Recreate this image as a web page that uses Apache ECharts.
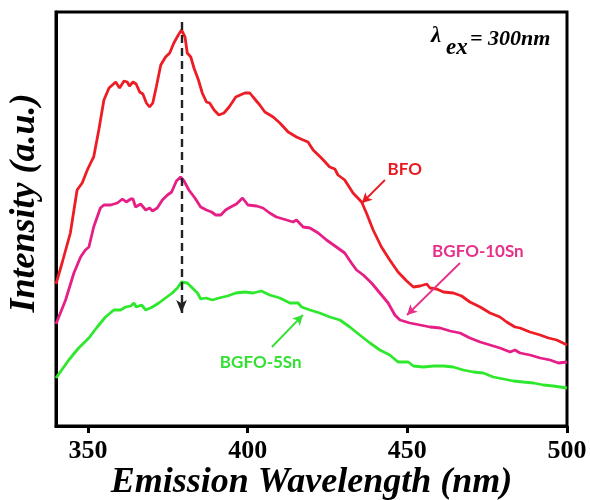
<!DOCTYPE html>
<html>
<head>
<meta charset="utf-8">
<script src="https://cdn.jsdelivr.net/npm/echarts@6/dist/echarts.min.js"></script>
<style>
html,body{margin:0;padding:0;background:#fff;}
#chart{width:590px;height:500px;}
</style>
</head>
<body>
<div id="chart"></div>
<script>
// ---- data (wavelength in nm, intensity in arbitrary units) ----
const xTicks = [350, 400, 450, 500];

const bfoWavelength = [340.0,341.9,344.5,346.6,348.2,349.8,351.3,351.8,353.4,355.0,356.6,358.7,359.9,361.3,362.3,363.0,364.1,365.1,366.2,367.2,368.3,369.3,370.3,371.4,372.8,374.3,375.6,376.9,378.3,379.3,380.4,381.1,382.2,383.2,384.6,385.8,387.1,388.1,389.5,391.0,392.6,394.2,396.3,399.1,400.7,401.7,403.8,405.4,408.0,410.1,412.7,415.3,417.4,418.9,420.5,423.1,425.7,427.3,428.3,430.4,433.0,435.7,437.2,439.3,441.9,444.5,447.1,449.8,451.9,454.0,456.1,457.1,459.2,461.3,464.4,467.0,469.6,472.8,475.9,479.0,481.1,483.7,485.3,488.4,491.6,494.2,496.8,500.0];
const bfoIntensity  = [142,163,193,236,243,256,266,269,296,326,338,344,338,345,344,340,344,342,334,332,323,319,323,339,361,369,373,383,391,396,389,373,369,358,346,333,324,323,316,311,313,319,329,333,333,329,321,314,309,303,294,289,286,284,276,268,259,257,251,246,233,224,213,196,179,166,154,145,139,140,142,138,137,134,133,130,124,119,113,109,104,99,98,94,91,88,86,81];

const bgfo10Wavelength = [340.0,343.0,345.6,347.7,349.2,350.3,351.8,353.9,355.0,357.1,359.2,360.8,362.0,363.4,364.1,364.9,366.5,368.1,369.3,370.2,371.7,373.3,374.9,376.2,377.7,379.0,380.1,381.6,383.5,385.3,387.1,388.7,390.0,391.6,393.1,394.7,396.5,398.4,400.1,402.8,404.8,406.9,409.0,412.2,414.2,415.3,417.4,419.5,422.1,424.7,427.8,430.4,432.5,434.1,436.2,438.8,441.4,444.0,446.1,447.7,450.8,454.0,457.1,460.3,463.4,466.5,469.6,472.8,475.9,479.0,482.2,483.7,485.3,488.4,491.6,494.7,497.3,500.0];
const bgfo10Intensity  = [102,126,153,169,176,179,199,218,221,221,223,227,224,227,227,219,222,216,218,215,218,226,231,234,245,249,245,236,228,219,216,214,211,211,216,219,222,228,221,220,218,213,209,206,204,206,199,198,193,186,179,173,163,156,151,143,133,123,111,106,103,101,99,98,95,93,88,84,81,78,74,76,73,71,68,66,63,64];

const bgfo5Wavelength = [340.0,344.0,347.1,350.3,352.9,355.5,358.1,360.2,361.8,363.4,364.4,365.1,366.8,368.1,370.2,372.2,374.3,376.4,378.0,379.3,381.1,382.7,384.3,385.3,386.9,389.0,391.0,393.7,396.3,399.1,401.7,404.3,406.9,410.1,413.2,415.8,416.9,419.5,422.6,425.7,428.9,432.0,435.1,438.3,441.4,444.5,447.1,450.3,451.9,455.0,458.2,461.3,464.4,467.5,470.7,473.8,476.9,480.1,483.2,486.3,489.5,492.6,495.7,500.0];
const bgfo5Intensity  = [48,66,78,88,99,109,116,116,119,120,123,119,121,116,119,123,128,133,138,144,143,138,133,127,128,126,128,130,133,134,133,135,131,128,123,123,119,116,113,109,106,99,91,83,76,71,64,64,60,59,60,60,59,56,54,53,49,47,45,44,43,41,40,38];

const seriesNames = ['BFO', 'BGFO-10Sn', 'BGFO-5Sn'];
const seriesColors = ['#ee1c25', '#e61e86', '#2ee82e'];
const labelColors = ['#e8191f', '#e6308a', '#33e033'];

// annotation positions in data units [wavelength, intensity]
const labelPositions = [[449.2, 256], [472.1, 174], [404.1, 63]];
const arrowStarts = [[443.0, 246], [466.5, 163], [407.6, 79]];
const arrowEnds = [[435.8, 223], [449.9, 111], [417.3, 111]];
const peakLine = [[379.3, 404], [379.3, 113]];

function zip(xs, ys) { return xs.map((x, i) => [x, ys[i]]); }

const chart = echarts.init(document.getElementById('chart'), null, {renderer: 'canvas'});

const dataSets = [
  zip(bfoWavelength, bfoIntensity),
  zip(bgfo10Wavelength, bgfo10Intensity),
  zip(bgfo5Wavelength, bgfo5Intensity)
];

const series = dataSets.map((d, i) => ({
  type: 'line',
  name: seriesNames[i],
  data: d,
  showSymbol: false,
  symbol: 'none',
  smooth: false,
  lineStyle: {color: seriesColors[i], width: 2.8},
  z: 3,
  markLine: {
    silent: true,
    animation: false,
    symbol: ['none', 'arrow'],
    symbolSize: [8, 10],
    label: {show: false},
    lineStyle: {color: labelColors[i], width: 1.8, type: 'solid'},
    data: [[{coord: arrowStarts[i]}, {coord: arrowEnds[i]}]]
  },
  markPoint: {
    silent: true,
    animation: false,
    symbol: 'circle',
    symbolSize: 1,
    itemStyle: {color: 'rgba(0,0,0,0)'},
    label: {
      show: true,
      position: 'inside',
      formatter: seriesNames[i],
      color: labelColors[i],
      fontFamily: 'Lato',
      fontWeight: 'bold',
      fontSize: 17
    },
    data: [{name: seriesNames[i], coord: labelPositions[i]}]
  }
}));

// dashed peak marker line
series.push({
  type: 'line',
  data: [],
  markLine: {
    silent: true,
    animation: false,
    symbol: ['none', 'arrow'],
    symbolSize: [8, 13],
    label: {show: false},
    lineStyle: {color: '#222', width: 2.4, type: [8, 5]},
    data: [[{coord: peakLine[0]}, {coord: peakLine[1]}]]
  },
  z: 5
});

const serif = 'Liberation Serif';

chart.setOption({
  animation: false,
  backgroundColor: '#fff',
  grid: {left: 56, right: 23, top: 12, bottom: 74, containLabel: false, outerBoundsMode: 'none', show: true, borderColor: '#000', borderWidth: 3, backgroundColor: 'transparent'},
  xAxis: {
    type: 'value',
    min: 340,
    max: 500,
    axisLine: {show: true, lineStyle: {color: '#000', width: 3}},
    axisTick: {show: true, inside: false, length: 7, lineStyle: {color: '#000', width: 3}, customValues: xTicks},
    axisLabel: {show: true, customValues: xTicks, fontFamily: serif, fontWeight: 'bold', fontSize: 26, color: '#000', margin: 12},
    splitLine: {show: false},
    name: 'Emission Wavelength (nm)',
    nameLocation: 'middle',
    nameGap: 39,
    nameMoveOverlap: false,
    nameTextStyle: {fontFamily: serif, fontStyle: 'italic', fontWeight: 'bold', fontSize: 36, color: '#000'}
  },
  yAxis: {
    type: 'value',
    min: 0,
    max: 414,
    axisLine: {show: true, lineStyle: {color: '#000', width: 3}},
    axisTick: {show: false},
    axisLabel: {show: false},
    splitLine: {show: false}
  },
  graphic: [
    {type: 'text', x: 25, y: 203, rotation: Math.PI / 2,
     style: {text: 'Intensity (a.u.)', fontFamily: serif, fontStyle: 'italic', fontWeight: 'bold', fontSize: 36, fill: '#000', align: 'center', verticalAlign: 'middle'}},
    {type: 'text', x: 431, y: 36,
     style: {text: 'λ', fontFamily: serif, fontStyle: 'italic', fontWeight: 'bold', fontSize: 23, fill: '#000', align: 'left', verticalAlign: 'middle'}},
    {type: 'text', x: 446, y: 48,
     style: {text: 'ex', fontFamily: serif, fontStyle: 'italic', fontWeight: 'bold', fontSize: 23, fill: '#000', align: 'left', verticalAlign: 'middle'}},
    {type: 'text', x: 470, y: 39,
     style: {text: '= 300nm', fontFamily: serif, fontStyle: 'italic', fontWeight: 'bold', fontSize: 22, fill: '#000', align: 'left', verticalAlign: 'middle'}}
  ],
  series: series
});
</script>
</body>
</html>
